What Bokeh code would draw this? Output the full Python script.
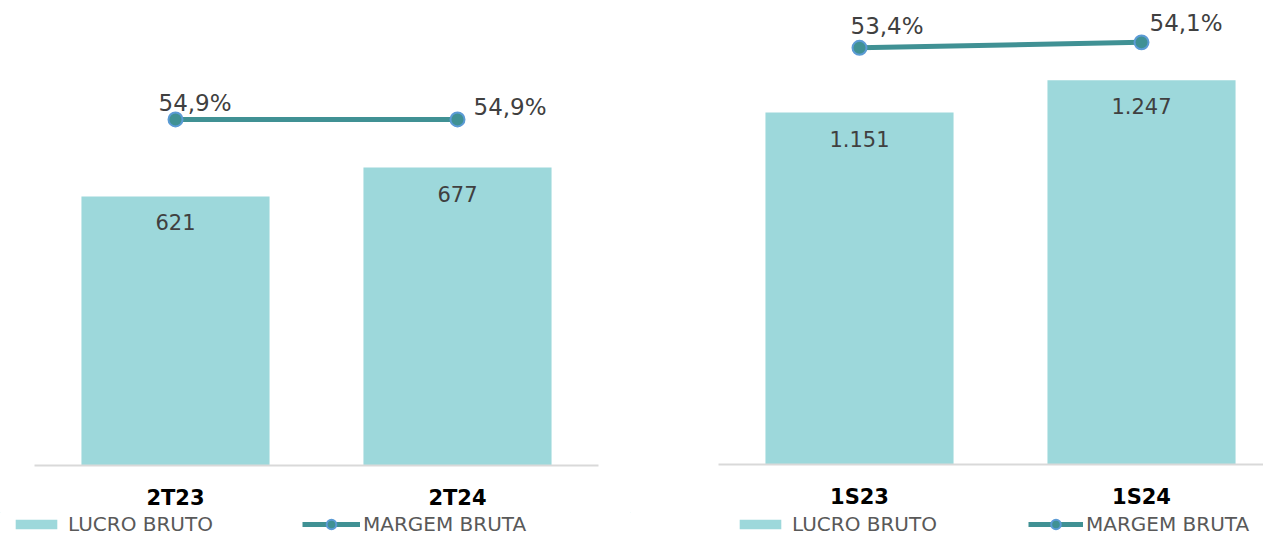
from bokeh.plotting import figure
from bokeh.models import Range1d, FixedTicker, ColumnDataSource, Legend, LegendItem
from bokeh.layouts import row, column
from bokeh.embed import file_html
from bokeh.resources import INLINE
from bokeh.core.properties import value

# ---- data ----
left_categories = ["2T23", "2T24"]
left_lucro = [621, 677]
left_margem = [54.9, 54.9]

right_categories = ["1S23", "1S24"]
right_lucro = [1151, 1247]
right_margem = [53.4, 54.1]

legend_labels = ["LUCRO BRUTO", "MARGEM BRUTA"]

# ---- style ----
BAR = "#9dd8db"
LINE = "#409194"
EDGE = "#5b9bd5"
FONT = "DejaVu Sans"
TXT = "#404040"
MAIN_H = 508
LEG_H = 24
TOP = 8


def fmt_int(v):
    return f"{v:,.0f}".replace(",", ".")


def fmt_pct(v):
    return f"{v:.1f}%".replace(".", ",")


def draw_series(p, src):
    bars = p.vbar(x="x", top="lucro", bottom=0, width=0.667, source=src,
                  fill_color=BAR, line_color=None)
    line = p.line(x="x", y="margem", source=src, y_range_name="pct",
                  line_color=LINE, line_width=5)
    dots = p.scatter(x="x", y="margem", source=src, y_range_name="pct",
                     size=14, fill_color=LINE, line_color=EDGE, line_width=2)
    return bars, line, dots


def panel(cats, lucro, margem, frame_w, frame_h, border_l, border_r,
          x_end, y_end, pct_end, pct_dx, pct_dy):
    xs = list(range(len(cats)))
    p = figure(frame_width=frame_w, frame_height=frame_h,
               min_border_left=border_l, min_border_right=border_r,
               min_border_top=TOP, min_border_bottom=MAIN_H - TOP - frame_h,
               x_range=Range1d(-0.5, x_end), y_range=Range1d(100, y_end),
               output_backend="svg", toolbar_location=None,
               y_axis_location=None, outline_line_color=None,
               background_fill_color="white", border_fill_color="white")
    p.extra_y_ranges = {"pct": Range1d(0, pct_end)}
    p.grid.visible = False

    src = ColumnDataSource(dict(
        x=xs, lucro=lucro, margem=margem,
        lucro_txt=[fmt_int(v) for v in lucro],
        pct_txt=[fmt_pct(v) for v in margem],
        dx=pct_dx, dy=pct_dy,
    ))
    draw_series(p, src)

    p.text(x="x", y="lucro", text="lucro_txt", source=src,
           text_align="center", text_baseline="middle", y_offset=26,
           text_font=value(FONT), text_font_size="21px", text_color=TXT)
    p.text(x="x", y="margem", text="pct_txt", source=src, y_range_name="pct",
           x_offset="dx", y_offset="dy",
           text_align="left", text_baseline="middle",
           text_font=value(FONT), text_font_size="23px", text_color=TXT)

    ax = p.xaxis[0]
    ax.ticker = FixedTicker(ticks=xs)
    ax.major_label_overrides = {i: c for i, c in zip(xs, cats)}
    ax.major_tick_line_color = None
    ax.minor_tick_line_color = None
    ax.axis_line_color = "#d9d9d9"
    ax.axis_line_width = 2
    ax.major_label_standoff = 14
    ax.major_label_text_font = FONT
    ax.major_label_text_font_style = "bold"
    ax.major_label_text_font_size = "21px"
    ax.major_label_text_color = "black"
    return p, src


def legend_strip(src, width, leg1_x, leg2_x, leg2_w):
    # legend-only strip; its series proxies lie outside the visible ranges
    lp = figure(width=width, height=LEG_H, min_border=0,
                x_range=Range1d(10, 11), y_range=Range1d(-3, -2),
                output_backend="svg", toolbar_location=None,
                x_axis_location=None, y_axis_location=None,
                outline_line_color=None, border_fill_color="white",
                background_fill_color="white")
    lp.extra_y_ranges = {"pct": Range1d(-3, -2)}
    lp.grid.visible = False
    bars, line, dots = draw_series(lp, src)
    common = dict(orientation="horizontal", padding=0, margin=0, spacing=0,
                  border_line_color=None, background_fill_alpha=0,
                  label_text_font=FONT, label_text_font_size="20px",
                  label_text_color="#595959")
    leg1 = Legend(items=[LegendItem(label=legend_labels[0], renderers=[bars])],
                  location=(leg1_x, 0), glyph_width=52, glyph_height=12,
                  label_standoff=6, **common)
    leg2 = Legend(items=[LegendItem(label=legend_labels[1], renderers=[line, dots])],
                  location=(leg2_x, 0), glyph_width=leg2_w, glyph_height=24,
                  label_standoff=3, **common)
    lp.add_layout(leg1)
    lp.add_layout(leg2)
    return lp


p1, s1 = panel(left_categories, left_lucro, left_margem,
               frame_w=564, frame_h=457, border_l=34, border_r=32,
               x_end=1.5, y_end=985, pct_end=72.5,
               pct_dx=[-17, 16], pct_dy=[-16, -12])

p2, s2 = panel(right_categories, right_lucro, right_margem,
               frame_w=545, frame_h=456, border_l=88, border_r=0,
               x_end=1.4326, y_end=1461.6, pct_end=58.44,
               pct_dx=[-9, 8], pct_dy=[-22, -19])

l1 = legend_strip(s1, 630, leg1_x=10, leg2_x=302, leg2_w=58)
l2 = legend_strip(s2, 633, leg1_x=104, leg2_x=398, leg2_w=55)

layout = column(row(p1, p2), row(l1, l2))
open("out.html", "w").write(file_html(layout, INLINE))
